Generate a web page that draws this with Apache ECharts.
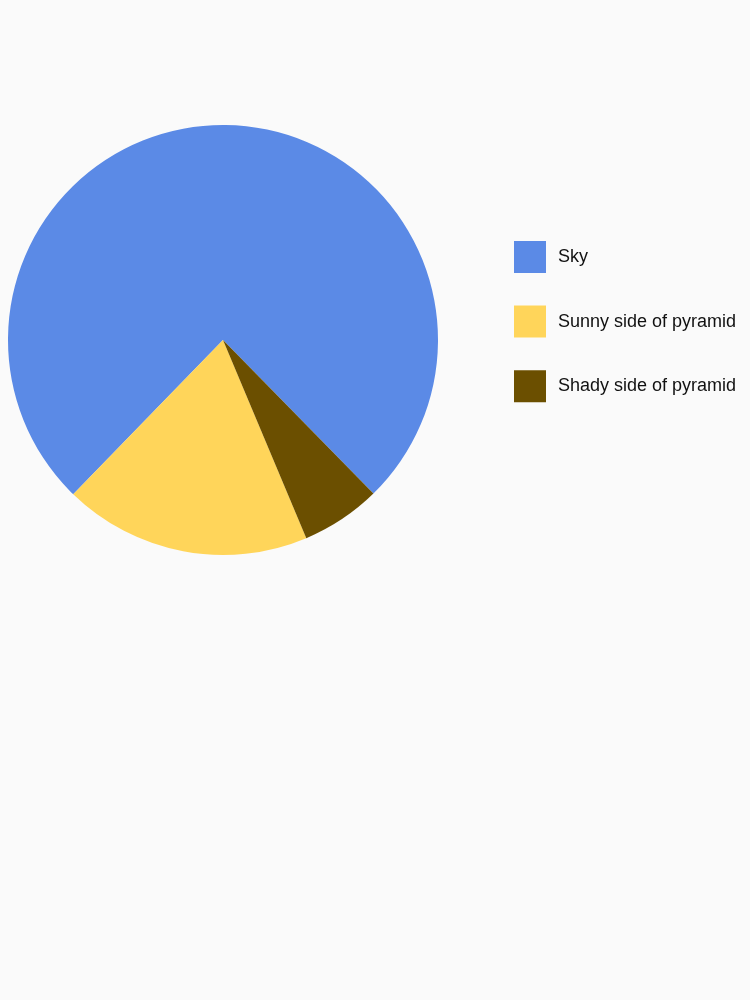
<!DOCTYPE html>
<html>
<head>
<meta charset="utf-8">
<script src="https://cdn.jsdelivr.net/npm/echarts@6/dist/echarts.min.js"></script>
<style>
html,body{margin:0;padding:0;background:#FAFAFA;}
#chart{width:750px;height:1000px;}
</style>
</head>
<body>
<div id="chart"></div>
<script>
const categories = ["Sky", "Sunny side of pyramid", "Shady side of pyramid"];
const values = [75.4, 18.6, 6.0];
const colors = ["#5B8AE6", "#FFD55A", "#6B4F00"];

const chart = echarts.init(document.getElementById('chart'));
chart.setOption({
  backgroundColor: '#FAFAFA',
  animation: false,
  legend: {
    orient: 'vertical',
    left: 514,
    top: 241,
    padding: 0,
    icon: 'rect',
    itemWidth: 32,
    itemHeight: 32,
    itemGap: 32.6,
    data: categories,
    textStyle: {
      fontFamily: 'Liberation Sans, Arial, sans-serif',
      fontSize: 18,
      color: '#111',
      padding: [0, 0, 0, 7]
    },
    selectedMode: false
  },
  series: [{
    type: 'pie',
    center: [223, 340],
    radius: [0, 215],
    startAngle: 314.4,
    clockwise: false,
    label: { show: false },
    labelLine: { show: false },
    emphasis: { disabled: true },
    itemStyle: { borderWidth: 0 },
    data: categories.map((c, i) => ({ name: c, value: values[i], itemStyle: { color: colors[i] } }))
  }]
});
</script>
</body>
</html>
